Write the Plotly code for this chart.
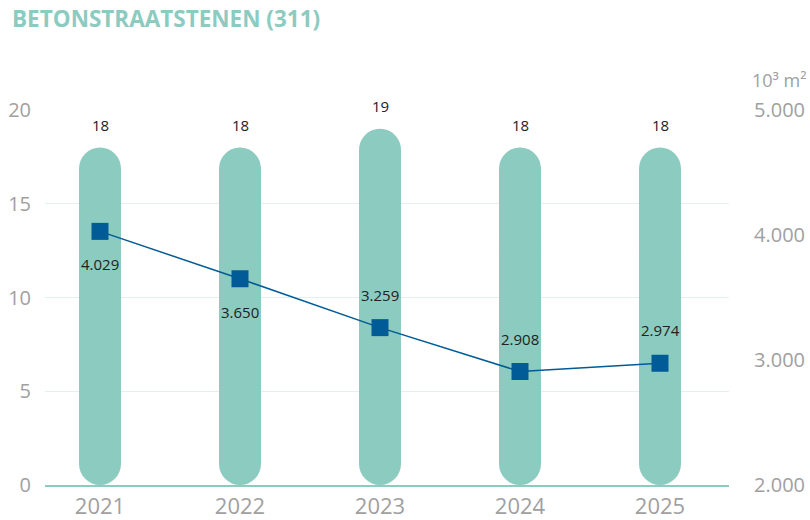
import plotly.graph_objects as go

# Data
years = ["2021", "2022", "2023", "2024", "2025"]
counts = [18, 18, 19, 18, 18]              # left axis (bars)
area = [4029, 3650, 3259, 2908, 2974]      # right axis, 10^3 m2 (line)
area_labels = ["4.029", "3.650", "3.259", "2.908", "2.974"]
area_label_side = ["below", "below", "above", "above", "above"]
left_ticks = [0, 5, 10, 15, 20]
right_ticks = [2000, 3000, 4000, 5000]
right_ticktext = ["2.000", "3.000", "4.000", "5.000"]

TEAL = "#8ccbbf"
BLUE = "#005b96"
GRID = "#e1f1ee"
TICK = "#a0a0a0"
FONT = "Open Sans"

# Plot area geometry (pixels) chosen so that a category step is 140 px
W, H = 810, 520
ML, MR, MT, MB = 45, 81, 110, 35
STEP = 140.0
x0 = -55 / STEP
x1 = x0 + (W - ML - MR) / STEP

fig = go.Figure()

# Pill-shaped bars: two overlapping bars per year, one rounded at the top,
# one (negative direction) rounded at the bottom.
fig.add_trace(go.Bar(
    x=years, y=[v * 0.75 for v in counts], base=[v * 0.25 for v in counts],
    width=0.3, opacity=1,
    marker=dict(color=TEAL, cornerradius="50%", line_width=0, opacity=1),
    hoverinfo="skip", showlegend=False,
))
fig.add_trace(go.Bar(
    x=years, y=[-v * 0.75 for v in counts], base=[v * 0.75 for v in counts],
    width=0.3, opacity=1,
    marker=dict(color=TEAL, cornerradius="50%", line_width=0, opacity=1),
    hoverinfo="skip", showlegend=False,
))

# Area line on the secondary axis
fig.add_trace(go.Scatter(
    x=years, y=area, yaxis="y2", mode="lines+markers",
    line=dict(color=BLUE, width=1.5),
    marker=dict(symbol="square", size=17, color=BLUE),
    showlegend=False,
))

# Annotations on a category axis are placed by category index
annotations = []
for i, v in enumerate(counts):
    annotations.append(dict(
        x=i, y=v, xref="x", yref="y", text=str(v), showarrow=False,
        yanchor="middle", yshift=23, font=dict(family=FONT, size=15, color="#222"),
    ))
for i, (v, t, side) in enumerate(zip(area, area_labels, area_label_side)):
    annotations.append(dict(
        x=i, y=v, xref="x", yref="y2", text=t, showarrow=False,
        yanchor="middle", yshift=33 if side == "above" else -33,
        font=dict(family=FONT, size=15, color="#222"),
    ))
# Unit label above the right axis
annotations.append(dict(
    xref="x domain", yref="y domain", x=1.0, y=1.0,
    xanchor="left", yanchor="bottom", xshift=21, yshift=16,
    text="10³ m²", showarrow=False,
    font=dict(family=FONT, size=18, color=TICK),
))

fig.update_layout(
    width=W, height=H,
    margin=dict(l=ML, r=MR, t=MT, b=MB),
    paper_bgcolor="white", plot_bgcolor="white",
    barmode="overlay",
    title=dict(
        text="<b>BETONSTRAATSTENEN (311)</b>",
        font=dict(family=FONT, size=22.5, color=TEAL),
        xref="container", yref="container", x=12 / W, y=1 - 19 / H,
        xanchor="left", yanchor="middle",
    ),
    xaxis=dict(
        type="category", range=[x0, x1], automargin=False,
        showgrid=False, zeroline=False,
        showline=True, linecolor=TEAL, linewidth=2,
        ticks="", ticklabelstandoff=1,
        tickfont=dict(family=FONT, size=22, color=TICK),
    ),
    yaxis=dict(
        range=[0, 20], tickvals=left_ticks, automargin=False,
        showgrid=True, gridcolor=GRID, gridwidth=1, zeroline=False,
        ticks="", ticklabelstandoff=13,
        tickfont=dict(family=FONT, size=20, color=TICK),
    ),
    yaxis2=dict(
        overlaying="y", side="right", range=[2000, 5000], automargin=False,
        tickvals=right_ticks, ticktext=right_ticktext,
        showgrid=False, zeroline=False, ticks="", ticklabelstandoff=24,
        tickfont=dict(family=FONT, size=20, color=TICK),
    ),
    annotations=annotations,
    shapes=[dict(
        type="line", xref="x domain", yref="y", x0=0, x1=1, y0=10, y1=10,
        line=dict(color="#e2e2e2", width=1), layer="below",
    )],
)

fig.write_html("out.html")
